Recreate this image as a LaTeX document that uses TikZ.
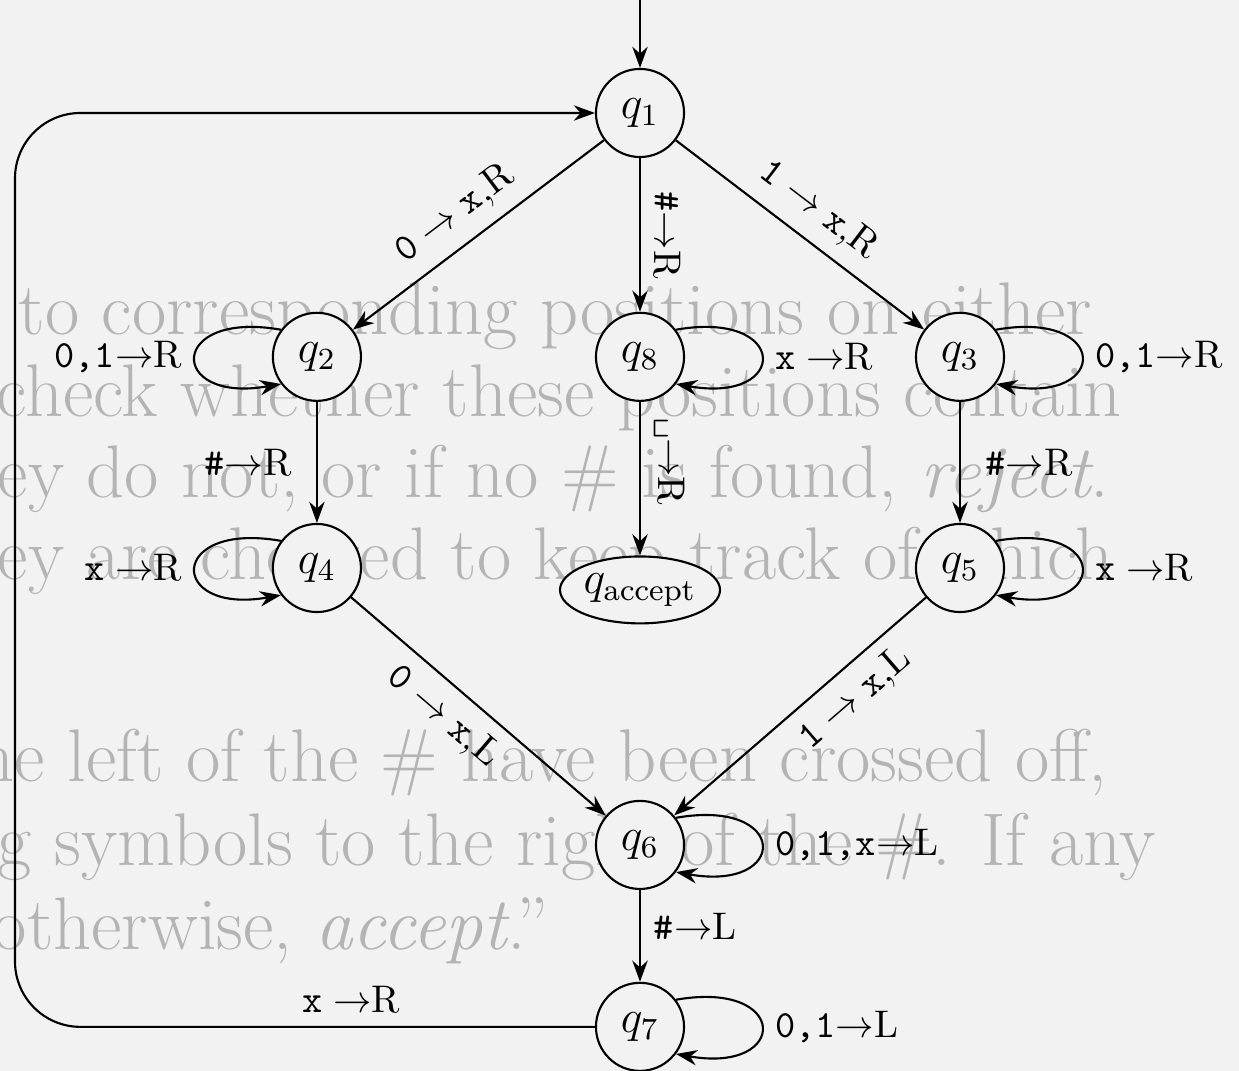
\documentclass[tikz,border=0pt]{standalone}
\usepackage{fontspec}
\usetikzlibrary{arrows.meta,positioning,shapes.geometric}
\definecolor{paper}{HTML}{F2F2F2}
\definecolor{ghost}{HTML}{B4B4B4}
\tikzset{
  state/.style={circle,draw,line width=0.55pt,fill=paper,minimum size=22.9pt,inner sep=0pt,font=\fontsize{12}{14}\selectfont},
  acceptstate/.style={ellipse,draw,line width=0.55pt,fill=paper,minimum width=41.6pt,minimum height=17.4pt,inner sep=0pt,font=\fontsize{12}{14}\selectfont},
  trans/.style={-{Stealth[length=5.5pt,width=4pt]},line width=0.55pt},
  lbl/.style={font=\fontsize{10}{12}\selectfont},
  ghostline/.style={text=ghost,font=\fontsize{19.4}{21}\selectfont,inner sep=0pt,anchor=base west}
}
\newcommand{\loopleft}[2]{\draw[trans] (#1.143) .. controls +(170:30pt) and +(190:30pt) .. node[lbl,left] {#2} (#1.217);}
\newcommand{\loopright}[2]{\draw[trans] (#1.37) .. controls +(10:30pt) and +(-10:30pt) .. node[lbl,right] {#2} (#1.-37);}

\begin{document}
\begin{tikzpicture}[x=0.26pt,y=-0.26pt,node distance=63.4pt,on grid]
\fill[paper] (0,0) rectangle (1239,1071);
\useasboundingbox (0,0) rectangle (1239,1071);
\clip (0,0) rectangle (1239,1071);

\node[ghostline] (line1) at (18,335) {to corresponding positions on either};
\node[ghostline] (line2) at (-4,417) {check whether these positions contain};
\node[ghostline] (line3) at (-3,498) {ey do not, or if no \# is found, \textit{reject}.};
\node[ghostline] (line4) at (-3,580) {ey are checked to keep track of which};
\node[ghostline] (line5) at (-24,782) {he left of the \# have been crossed off,};
\node[ghostline] (line6) at (-3,866) {g symbols to the right of the \#. If any};
\node[ghostline] (line7) at (-8,950) {otherwise, \textit{accept}.”};

\node[state] (q1) at (640,113) {$q_1$};
\node[state,below=63.4pt of q1] (q8) {$q_8$};
\node[state,left=84pt of q8] (q2) {$q_2$};
\node[state,right=83.2pt of q8] (q3) {$q_3$};
\node[state,below=54.9pt of q2] (q4) {$q_4$};
\node[state,below=54.9pt of q3] (q5) {$q_5$};
\node[acceptstate,below=60.6pt of q8] (qacc) {$q_{\mathrm{accept}}$};
\node[state,below=126.9pt of q8] (q6) {$q_6$};
\node[state,below=47.3pt of q6] (q7) {$q_7$};
\coordinate[above=29.4pt of q1] (start);
\coordinate (rail) at (15,570);

\draw[trans] (start) -- (q1);
\draw[trans] (q1) -- node[lbl,above,sloped,pos=0.52] {$\mathtt{0}\rightarrow\mathtt{x}$,R} (q2);
\draw[trans] (q1) -- node[lbl,above,sloped] {\texttt{\#}$\rightarrow$R} (q8);
\draw[trans] (q1) -- node[lbl,above,sloped] {$\mathtt{1}\rightarrow\mathtt{x}$,R} (q3);
\loopleft{q2}{\texttt{0,1}$\rightarrow$R}
\loopright{q8}{$\mathtt{x}\rightarrow$R}
\loopright{q3}{\texttt{0,1}$\rightarrow$R}
\draw[trans] (q2) -- node[lbl,left,xshift=-3pt] {\texttt{\#}$\rightarrow$R} (q4);
\draw[trans] (q8) -- node[lbl,above,sloped,pos=0.39] {\texttt{\textvisiblespace}$\rightarrow$R} (qacc);
\draw[trans] (q3) -- node[lbl,right,xshift=3pt] {\texttt{\#}$\rightarrow$R} (q5);
\loopleft{q4}{$\mathtt{x}\rightarrow$R}
\loopright{q5}{$\mathtt{x}\rightarrow$R}
\draw[trans] (q4) -- node[lbl,below,sloped,pos=0.44] {$\mathtt{0}\rightarrow\mathtt{x}$,L} (q6);
\draw[trans] (q5) -- node[lbl,below,sloped,pos=0.36] {$\mathtt{1}\rightarrow\mathtt{x}$,L} (q6);
\loopright{q6}{\texttt{0,1,x}$\rightarrow$L}
\draw[trans] (q6) -- node[lbl,right,pos=0.4] {\texttt{\#}$\rightarrow$L} (q7);
\loopright{q7}{\texttt{0,1}$\rightarrow$L}
\draw[trans,rounded corners=17pt] (q7.west) -| node[lbl,above,pos=0.21] {$\mathtt{x}\rightarrow$R} (rail) |- (q1.west);
\end{tikzpicture}
\end{document}
